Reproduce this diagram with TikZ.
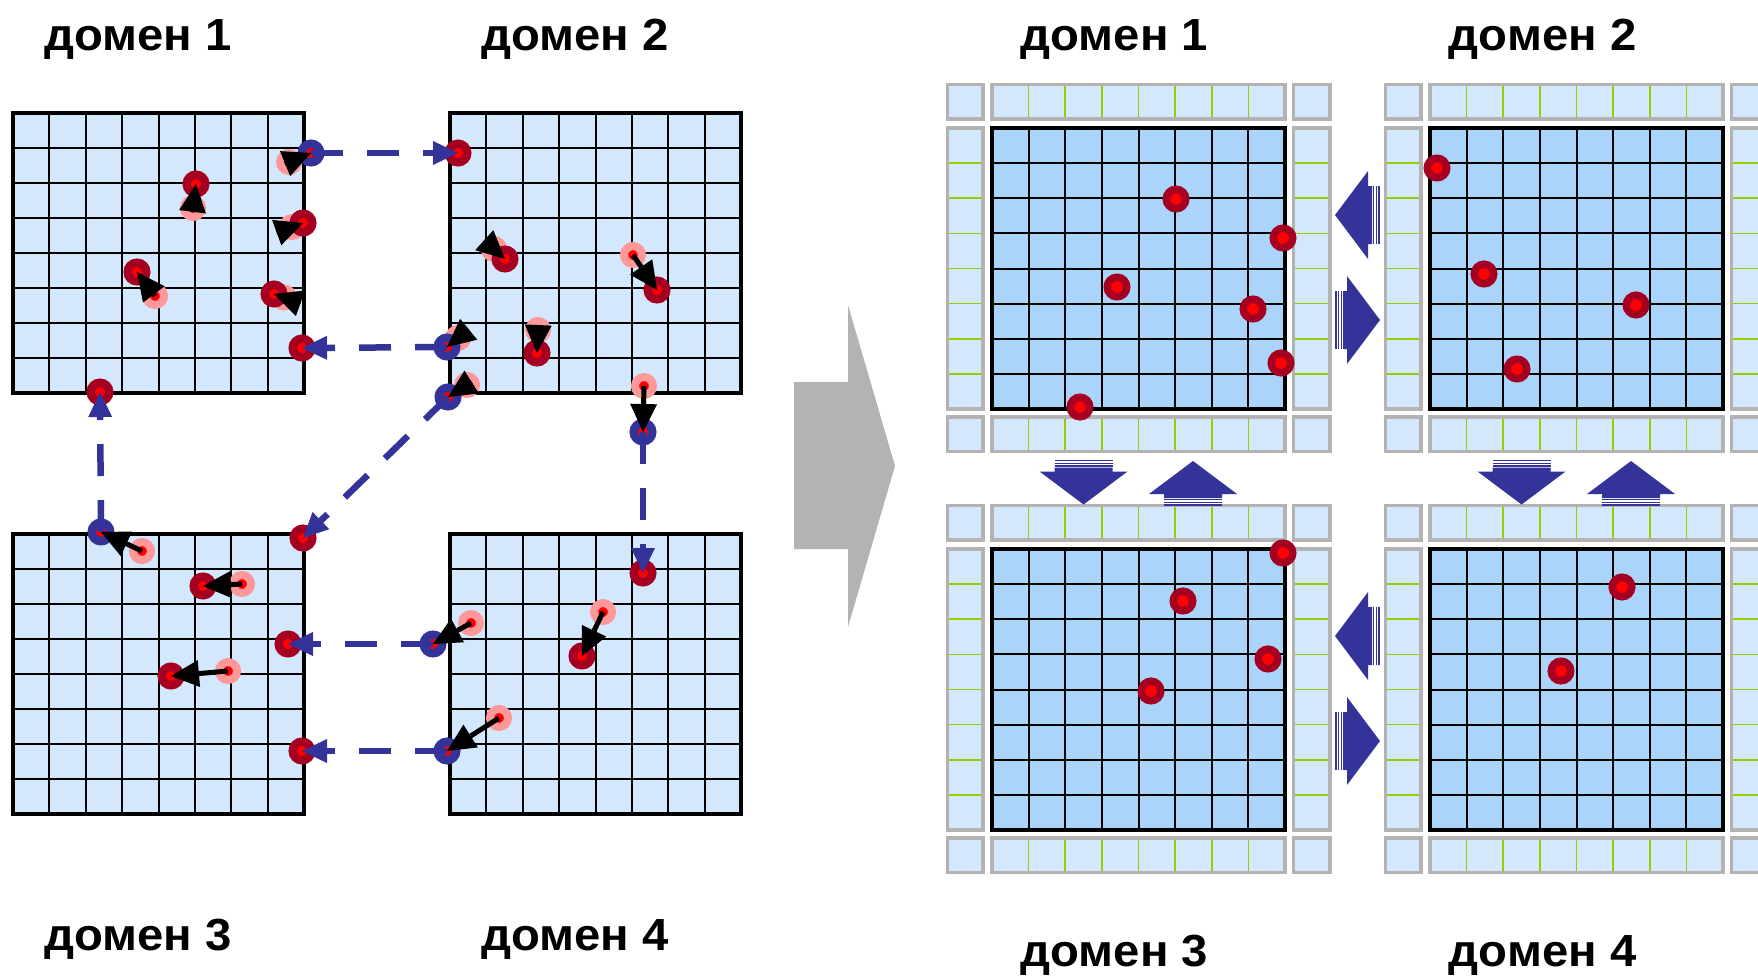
\documentclass[tikz,border=0pt]{standalone}
\usepackage{fontspec}
\setmainfont{Liberation Sans}
\newfontfamily\labelfont[FakeStretch=1.05]{Liberation Sans}
\usetikzlibrary{arrows.meta}

\definecolor{lightcell}{HTML}{D3E8FC}
\definecolor{corecell}{HTML}{AAD4FA}
\definecolor{halogray}{HTML}{B3B3B3}
\definecolor{halogreen}{HTML}{99CC00}
\definecolor{navy}{HTML}{333399}
\definecolor{darkred}{HTML}{A50021}
\definecolor{pinkc}{HTML}{FF9999}
\definecolor{bigarrowgray}{HTML}{B3B3B3}

\begin{document}
\begin{tikzpicture}[x=1pt, y=-1pt,
  cellfill/.style={fill=lightcell},
  corefill/.style={fill=corecell},
  cellline/.style={draw=black, line width=2pt},
  gridframe/.style={draw=black, line width=4.5pt},
  halofill/.style={fill=lightcell},
  haloline/.style={draw=halogreen, line width=1.6pt},
  halobox/.style={draw=halogray, line width=3.5pt},
  oldpos/.style={circle, draw=pinkc, fill=red, line width=8pt, minimum size=18pt, inner sep=0pt},
  newpos/.style={circle, draw=darkred, fill=red, line width=8.5pt, minimum size=18.5pt, inner sep=0pt},
  exitpos/.style={newpos, draw=navy},
  corepos/.style={circle, draw=darkred, fill=red, line width=7.5pt, minimum size=19.5pt, inner sep=0pt},
  move/.style={draw=black, line width=5pt, -{Triangle[length=28pt, width=27pt, line width=0pt]}},
  migrate/.style={draw=navy, line width=6.5pt, dash pattern=on 32pt off 24pt, -{Triangle[length=25pt, width=24pt, line width=0pt]}},
  lab/.style={font=\labelfont\fontsize{45}{50}\selectfont\bfseries, anchor=base west, inner sep=0pt},
  % 8x8 cell grid of one domain
  plaingrid/.pic={
    \fill[cellfill] (0,0) rectangle (291,280);
    \foreach \k in {1,...,7}{
      \draw[cellline] ({\k*36.375},0) -- ({\k*36.375},280);
      \draw[cellline] (0,{\k*35}) -- (291,{\k*35});
    }
    \draw[gridframe] (0,0) rectangle (291,280);
  },
  % inner grid of a domain with its ghost layer
  coregrid/.pic={
    \fill[corefill] (0,0) rectangle (293,281);
    \foreach \k in {1,...,7}{
      \draw[cellline] ({\k*36.625},0) -- ({\k*36.625},281);
      \draw[cellline] (0,{\k*35.125}) -- (293,{\k*35.125});
    }
    \draw[gridframe] (0,0) rectangle (293,281);
  },
  halo/.pic={
    \foreach \ya/\yb in {-43.5/-9, 289/323.5}{
      \fill[halofill] (0,\ya) rectangle (293,\yb);
      \foreach \k in {1,...,7} \draw[haloline] ({\k*36.625},\ya) -- ({\k*36.625},\yb);
      \draw[halobox] (0,\ya) rectangle (293,\yb);
    }
    \foreach \xa/\xb in {-44.5/-9, 301.5/338}{
      \fill[halofill] (\xa,0) rectangle (\xb,281);
      \foreach \k in {1,...,7} \draw[haloline] (\xa,{\k*35.125}) -- (\xb,{\k*35.125});
      \draw[halobox] (\xa,0) rectangle (\xb,281);
      \foreach \ya/\yb in {-43.5/-9, 289/323.5}
        \draw[halobox, halofill] (\xa,\ya) rectangle (\xb,\yb);
    }
  },
  % striped block arrow, tip at the origin, pointing along +x
  blockarrow/.pic={
    \fill[navy] (0,0) -- (-33,-44) -- (-33,-29) -- (-37,-29) -- (-37,29) -- (-33,29) -- (-33,44) -- cycle;
    \fill[navy] (-38,-29) rectangle (-39.4,29);
    \fill[navy] (-40.6,-29) rectangle (-42,29);
    \fill[navy] (-43.2,-29) rectangle (-44.6,29);
  },
]
\clip (0,0) rectangle (1758,975);

% ---------- left half: particles moving between domains ----------
\pic at (13,113) {plaingrid};
\pic at (450,113) {plaingrid};
\pic at (13,534) {plaingrid};
\pic at (450,534) {plaingrid};

% ---------- transition arrow ----------
\fill[bigarrowgray] (794,382) -- (848,382) -- (848,305) -- (895,466) -- (848,627) -- (848,549) -- (794,549) -- cycle;

% ---------- right half: domains with ghost layers ----------
\foreach \gx/\gy in {992/128, 1430/128, 992/549, 1430/549}{
  \pic at (\gx,\gy) {halo};
  \pic at (\gx,\gy) {coregrid};
}

% exchange arrows
\pic[rotate=180] at (1335,215) {blockarrow};
\pic at (1380,320) {blockarrow};
\pic[rotate=180] at (1335,636) {blockarrow};
\pic at (1380,741) {blockarrow};
\pic[rotate=-90] at (1083.5,504.5) {blockarrow};
\pic[rotate=90] at (1193,461) {blockarrow};
\pic[rotate=-90] at (1521.5,504.5) {blockarrow};
\pic[rotate=90] at (1631,461) {blockarrow};

% ---------- old positions ----------
\node[oldpos] (pk1) at (289,162) {};
\node[oldpos] (pk2) at (193,208) {};
\node[oldpos] (pk3) at (292,227) {};
\node[oldpos] (pk4) at (155,296) {};
\node[oldpos] (pk5) at (284,297.5) {};
\node[oldpos] (pk6) at (494,249) {};
\node[oldpos] (pk7) at (633,255) {};
\node[oldpos] (pk8) at (538,330) {};
\node[oldpos] (pk9) at (458,338) {};
\node[oldpos] (pk10) at (467,385) {};
\node[oldpos] (pk11) at (644,386) {};
\node[oldpos] (pk12) at (142,551) {};
\node[oldpos] (pk13) at (242,584) {};
\node[oldpos] (pk14) at (228,671) {};
\node[oldpos] (pk15) at (603,612) {};
\node[oldpos] (pk16) at (471,623) {};
\node[oldpos] (pk17) at (499,718) {};

% ---------- new positions inside a domain ----------
\node[newpos] (r1) at (196,184) {};
\node[newpos] (r2) at (303,223) {};
\node[newpos] (r3) at (137,272) {};
\node[newpos] (r4) at (274,294) {};
\node[newpos] (r5) at (302,348) {};
\node[newpos] (r6) at (100,392) {};
\node[newpos] (r7) at (458,153) {};
\node[newpos] (r8) at (505,259) {};
\node[newpos] (r9) at (657,290) {};
\node[newpos] (r10) at (537,353) {};
\node[newpos] (r11) at (303,538) {};
\node[newpos] (r12) at (203,586) {};
\node[newpos] (r13) at (288,644) {};
\node[newpos] (r14) at (171,676) {};
\node[newpos] (r15) at (302,751) {};
\node[newpos] (r16) at (643,573) {};
\node[newpos] (r17) at (582,656) {};

% ---------- positions outside the own domain ----------
\node[exitpos] (b1) at (311,153) {};
\node[exitpos] (b2) at (447,347) {};
\node[exitpos] (b3) at (448,397) {};
\node[exitpos] (b4) at (643,432) {};
\node[exitpos] (b5) at (101,532) {};
\node[exitpos] (b6) at (433,644) {};
\node[exitpos] (b7) at (447,751) {};

% ---------- migration to neighbouring domains ----------
\draw[migrate] (b1.center) -- (r7.center);
\draw[migrate] (b2.center) -- (r5.center);
\draw[migrate] (b3.center) -- (r11.center);
\draw[migrate] (b4.center) -- (r16.center);
\draw[migrate] (b5.center) -- (r6.center);
\draw[migrate] (b6.center) -- (r13.center);
\draw[migrate] (b7.center) -- (r15.center);

% ---------- displacements ----------
\draw[move] (pk1.center) -- (b1.center);
\draw[move] (pk2.center) -- (r1.center);
\draw[move] (pk3.center) -- (r2.center);
\draw[move] (pk4.center) -- (r3.center);
\draw[move] (pk5.center) -- (r4.center);
\draw[move] (pk6.center) -- (r8.center);
\draw[move] (pk7.center) -- (r9.center);
\draw[move] (pk8.center) -- (r10.center);
\draw[move] (pk9.center) -- (b2.center);
\draw[move] (pk10.center) -- (b3.center);
\draw[move] (pk11.center) -- (b4.center);
\draw[move] (pk12.center) -- (b5.center);
\draw[move] (pk13.center) -- (r12.center);
\draw[move] (pk14.center) -- (r14.center);
\draw[move] (pk15.center) -- (r17.center);
\draw[move] (pk16.center) -- (b6.center);
\draw[move] (pk17.center) -- (b7.center);

% ---------- particles after the exchange ----------
\node[corepos] (c1) at (1176,199) {};
\node[corepos] (c2) at (1283,238) {};
\node[corepos] (c3) at (1117,287) {};
\node[corepos] (c4) at (1253,309) {};
\node[corepos] (c5) at (1281,363) {};
\node[corepos] (c6) at (1080,407) {};
\node[corepos] (c7) at (1437,168) {};
\node[corepos] (c8) at (1484,274) {};
\node[corepos] (c9) at (1636,305) {};
\node[corepos] (c10) at (1517,369) {};
\node[corepos] (c11) at (1283,553) {};
\node[corepos] (c12) at (1183,601) {};
\node[corepos] (c13) at (1268,659) {};
\node[corepos] (c14) at (1151,691) {};
\node[corepos] (c15) at (1622,587) {};
\node[corepos] (c16) at (1561,671) {};

% ---------- labels ----------
\node[lab] (L1) at (44,50) {домен 1};
\node[lab] (L2) at (481,50) {домен 2};
\node[lab] (L3) at (44,950) {домен 3};
\node[lab] (L4) at (481,950) {домен 4};
\node[lab] (R1) at (1020.5,50) {домен 1};
\node[lab] (R2) at (1448.7,50) {домен 2};
\node[lab] (R3) at (1020.5,966) {домен 3};
\node[lab] (R4) at (1448.7,966) {домен 4};
\end{tikzpicture}
\end{document}
